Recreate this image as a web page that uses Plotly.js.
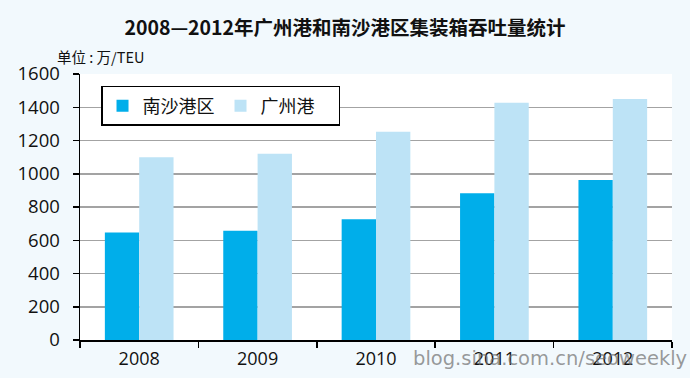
<!DOCTYPE html>
<html>
<head>
<meta charset="utf-8">
<script src="https://cdn.plot.ly/plotly-3.0.1.min.js"></script>
<style>html,body{margin:0;padding:0;background:#f2f9fd;}</style>
</head>
<body>
<div id="chart" style="width:690px;height:378px;"></div>
<script>
const years = ['2008', '2009', '2010', '2011', '2012'];
const nansha = [646, 657, 727, 883, 962];
const guangzhou = [1100, 1121, 1253, 1427, 1450];
const seriesNames = ['南沙港区', '广州港'];
const yTicks = [0, 200, 400, 600, 800, 1000, 1200, 1400, 1600];

const cjk = '"Noto Sans CJK SC", "Noto Sans", sans-serif';
const num = '"Open Sans", "Noto Sans", sans-serif';

const traces = [
  {type: 'bar', name: seriesNames[0], x: years, y: nansha,
   marker: {color: '#00aeea'}, hoverinfo: 'x+y'},
  {type: 'bar', name: seriesNames[1], x: years, y: guangzhou,
   marker: {color: '#bde3f6'}, hoverinfo: 'x+y'}
];

const layout = {
  width: 690, height: 378,
  margin: {l: 80, r: 18, t: 74, b: 38},
  paper_bgcolor: '#f2f9fd',
  plot_bgcolor: '#ffffff',
  barmode: 'group',
  bargap: 0.42,
  bargroupgap: 0,
  font: {family: cjk, color: '#111', size: 16},
  title: {text: '<b>2008—2012年广州港和南沙港区集装箱吞吐量统计</b>',
          x: 0.5, xanchor: 'center', y: 0.926, yanchor: 'middle',
          font: {family: cjk, size: 19.5, color: '#111'}},
  xaxis: {type: 'category', tickson: 'boundaries', ticks: 'outside', ticklen: 6,
          tickcolor: '#000', tickwidth: 1.5, showline: true, linecolor: '#000', linewidth: 1.5,
          showgrid: false, ticklabelstandoff: 2,
          tickfont: {size: 18, family: num, color: '#111'}, fixedrange: true},
  yaxis: {range: [0, 1600], tickvals: yTicks, ticks: 'outside', ticklen: 6,
          tickcolor: '#000', tickwidth: 1.5, showline: true, linecolor: '#000', linewidth: 1.5,
          showgrid: true, gridcolor: '#a3a3a3', gridwidth: 1.5, zeroline: false,
          ticklabelstandoff: 9,
          tickfont: {size: 18.5, family: num, color: '#111'}, fixedrange: true},
  legend: {orientation: 'h', x: 0.0355, y: 0.955, xanchor: 'left', yanchor: 'top',
           bgcolor: '#ffffff', bordercolor: '#000', borderwidth: 1.5,
           font: {size: 18, family: cjk, color: '#111'}, itemwidth: 30,
           entrywidth: 73, entrywidthmode: 'pixels',
           traceorder: 'normal'},
  annotations: [
    {text: '单位 : 万/TEU', xref: 'paper', yref: 'paper', x: -0.042, y: 1.066,
     xanchor: 'left', yanchor: 'middle', showarrow: false,
     font: {size: 14.5, family: cjk, color: '#111'}},
    {text: 'blog.sina.com.cn/seoweekly', xref: 'paper', yref: 'paper', x: 1.029, y: -0.07,
     xanchor: 'right', yanchor: 'middle', showarrow: false,
     font: {size: 19.5, family: '"DejaVu Sans", sans-serif', color: 'rgba(110,110,110,0.7)'}}
  ]
};

Plotly.newPlot('chart', traces, layout, {displayModeBar: false, staticPlot: true});
</script>
</body>
</html>
